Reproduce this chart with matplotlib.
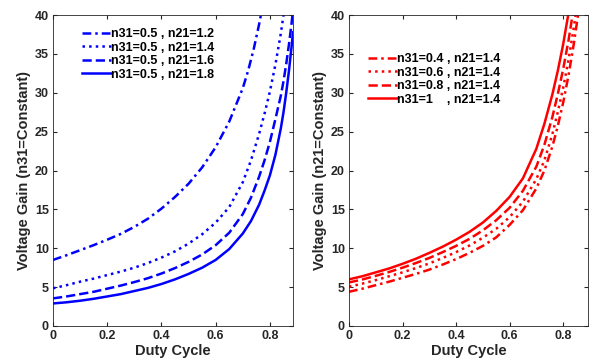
import matplotlib
matplotlib.use("Agg")
import matplotlib.pyplot as plt

plt.rcParams['font.family'] = ['Liberation Sans', 'DejaVu Sans']
plt.rcParams['font.weight'] = 'bold'

# left panel: n31 fixed, n21 varies
d_b12 = [0, 0.05, 0.1, 0.15, 0.2, 0.25, 0.3, 0.35, 0.4, 0.45, 0.5, 0.55, 0.6, 0.65,
         0.7, 0.72, 0.74, 0.76, 0.77]
g_b12 = [8.5, 9.1, 9.75, 10.4, 11.1, 11.85, 12.75, 13.8, 15.1, 16.6, 18.3, 20.4, 23.0, 26.3,
         30.6, 32.9, 35.6, 38.8, 40.6]

d_b14 = [0, 0.05, 0.1, 0.15, 0.2, 0.25, 0.3, 0.35, 0.4, 0.45, 0.5, 0.55, 0.6, 0.65,
         0.7, 0.73, 0.76, 0.78, 0.8, 0.82, 0.84, 0.85, 0.855]
g_b14 = [4.85, 5.25, 5.7, 6.1, 6.55, 7.0, 7.5, 8.1, 8.8, 9.6, 10.6, 11.8, 13.3, 15.3,
         18.5, 21.3, 24.7, 27.3, 30.2, 33.6, 37.6, 40.0, 41.3]

d_b16 = [0, 0.05, 0.1, 0.15, 0.2, 0.25, 0.3, 0.35, 0.4, 0.45, 0.5, 0.55, 0.6, 0.65,
         0.7, 0.73, 0.76, 0.78, 0.8, 0.82, 0.84, 0.85, 0.86, 0.87, 0.88, 0.885]
g_b16 = [3.55, 3.8, 4.1, 4.4, 4.8, 5.2, 5.65, 6.15, 6.75, 7.45, 8.25, 9.2, 10.4, 12.0,
         14.4, 16.5, 19.2, 21.3, 23.7, 26.6, 29.6, 31.5, 33.7, 36.2, 39.0, 40.6]

d_b18 = [0, 0.05, 0.1, 0.15, 0.2, 0.25, 0.3, 0.35, 0.4, 0.45, 0.5, 0.55, 0.6, 0.65,
         0.7, 0.73, 0.76, 0.78, 0.8, 0.82, 0.84, 0.85, 0.86, 0.87, 0.88, 0.885]
g_b18 = [2.9, 3.05, 3.25, 3.5, 3.8, 4.1, 4.5, 4.9, 5.4, 6.0, 6.7, 7.5, 8.5, 9.9,
         11.9, 13.5, 15.6, 17.4, 19.4, 22.0, 25.4, 27.5, 30.0, 32.8, 36.0, 37.8]

# right panel: n21 fixed, n31 varies
d_r04 = [0, 0.05, 0.1, 0.15, 0.2, 0.25, 0.3, 0.35, 0.4, 0.45, 0.5, 0.55, 0.6, 0.65,
         0.7, 0.73, 0.76, 0.78, 0.8, 0.82, 0.84, 0.855, 0.865]
g_r04 = [4.4, 4.8, 5.25, 5.7, 6.2, 6.7, 7.25, 7.9, 8.6, 9.4, 10.3, 11.4, 13.0, 14.9,
         17.7, 20.0, 23.1, 25.7, 28.7, 32.2, 36.3, 39.8, 42.3]

d_r06 = [0, 0.05, 0.1, 0.15, 0.2, 0.25, 0.3, 0.35, 0.4, 0.45, 0.5, 0.55, 0.6, 0.65,
         0.7, 0.73, 0.76, 0.78, 0.8, 0.82, 0.84, 0.85]
g_r06 = [5.05, 5.45, 5.9, 6.4, 6.9, 7.45, 8.05, 8.75, 9.5, 10.35, 11.35, 12.5, 14.0, 16.0,
         18.9, 21.3, 24.7, 27.5, 30.6, 34.2, 38.4, 40.8]

d_r08 = [0, 0.05, 0.1, 0.15, 0.2, 0.25, 0.3, 0.35, 0.4, 0.45, 0.5, 0.55, 0.6, 0.65,
         0.7, 0.73, 0.76, 0.78, 0.8, 0.82, 0.84]
g_r08 = [5.6, 5.98, 6.45, 6.95, 7.5, 8.1, 8.75, 9.5, 10.3, 11.2, 12.3, 13.6, 15.2, 17.4,
         20.5, 23.3, 26.9, 29.8, 33.0, 36.7, 41.0]

d_r10 = [0, 0.05, 0.1, 0.15, 0.2, 0.25, 0.3, 0.35, 0.4, 0.45, 0.5, 0.55, 0.6, 0.65,
         0.7, 0.73, 0.76, 0.78, 0.8, 0.82, 0.83]
g_r10 = [6.0, 6.4, 6.9, 7.4, 8.0, 8.65, 9.4, 10.2, 11.1, 12.1, 13.3, 14.8, 16.6, 19.0,
         22.8, 26.0, 29.8, 32.8, 36.2, 40.2, 42.3]

labels_left = ['n31=0.5 , n21=1.2', 'n31=0.5 , n21=1.4',
               'n31=0.5 , n21=1.6', 'n31=0.5 , n21=1.8']
labels_right = ['n31=0.4 , n21=1.4', 'n31=0.6 , n21=1.4',
                'n31=0.8 , n21=1.4', 'n31=1    , n21=1.4']

xticks = [0, 0.2, 0.4, 0.6, 0.8]
xticklabels = ['0', '0.2', '0.4', '0.6', '0.8']
yticks = [0, 5, 10, 15, 20, 25, 30, 35, 40]

dashdot = (0, (3.5, 1.6, 1.0, 1.6))
styles = [dashdot, ':', '--', '-']

fig = plt.figure(figsize=(5.92, 3.6), dpi=100)
ax1 = fig.add_axes([53 / 592, 34 / 360, 240 / 592, 311 / 360])
ax2 = fig.add_axes([349 / 592, 34 / 360, 239 / 592, 311 / 360])

left_data = [(d_b12, g_b12), (d_b14, g_b14), (d_b16, g_b16), (d_b18, g_b18)]
right_data = [(d_r04, g_r04), (d_r06, g_r06), (d_r08, g_r08), (d_r10, g_r10)]

for (d, g), ls, lab in zip(left_data, styles, labels_left):
    ax1.plot(d, g, color='blue', lw=1.8, ls=ls, label=lab)
for (d, g), ls, lab in zip(right_data, styles, labels_right):
    ax2.plot(d, g, color='red', lw=1.8, ls=ls, label=lab)

for ax, xmax, ylab in [(ax1, 0.885, 'Voltage Gain (n31=Constant)'),
                       (ax2, 0.893, 'Voltage Gain (n21=Constant)')]:
    ax.set_xlim(0, xmax)
    ax.set_ylim(0, 40)
    ax.set_xticks(xticks)
    ax.set_xticklabels(xticklabels)
    ax.set_yticks(yticks)
    ax.tick_params(direction='in', top=True, right=True, length=3,
                   labelsize=9, colors='#262626', pad=3)
    for s in ax.spines.values():
        s.set_color('#262626')
        s.set_linewidth(0.6)
    ax.set_xlabel('Duty Cycle', fontsize=10.5, fontweight='bold', color='#262626', labelpad=1.5)
    ax.set_ylabel(ylab, fontsize=10.5, fontweight='bold', color='#262626', labelpad=3)

leg_kw = dict(loc='upper left', frameon=False, fontsize=9, handlelength=2.3,
              handletextpad=0.05, labelspacing=0.12, borderpad=0, borderaxespad=0)
ax1.legend(bbox_to_anchor=(0.12, 0.958), **leg_kw)
ax2.legend(bbox_to_anchor=(0.08, 0.877), **leg_kw)

fig.savefig('out.png', dpi=100)
